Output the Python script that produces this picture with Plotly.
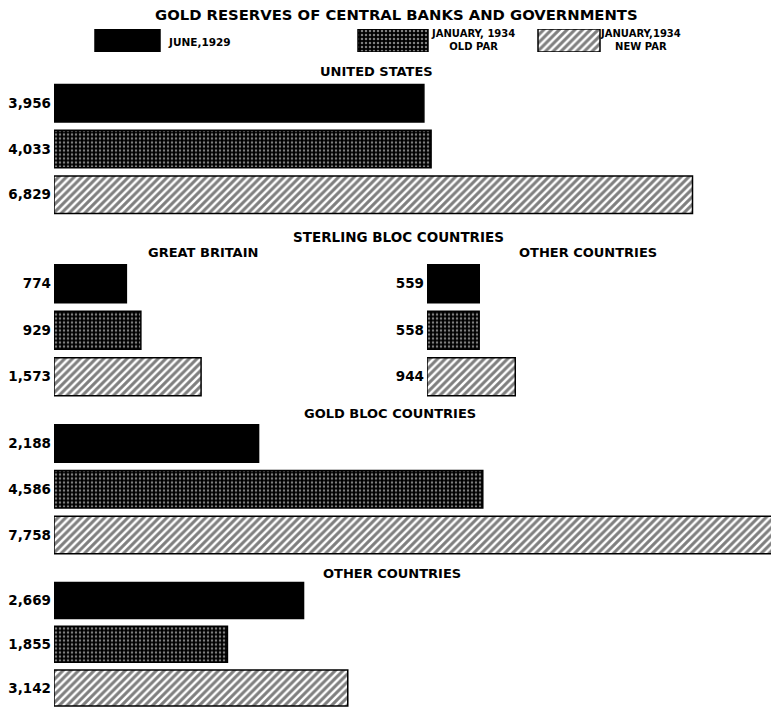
import plotly.graph_objects as go

# ---------------- data ----------------
series_names = ["JUNE,1929", "JANUARY, 1934 OLD PAR", "JANUARY,1934 NEW PAR"]
us_values = [3956, 4033, 6829]
gb_values = [774, 929, 1573]
sterling_other_values = [559, 558, 944]
gold_bloc_values = [2188, 4586, 7758]
other_values = [2669, 1855, 3142]

panel_titles = ["UNITED STATES", "STERLING BLOC COUNTRIES", "GREAT BRITAIN",
                "OTHER COUNTRIES", "GOLD BLOC COUNTRIES", "OTHER COUNTRIES"]
chart_title = "GOLD RESERVES OF CENTRAL BANKS AND GOVERNMENTS"

# ---------------- styling ----------------
W, H = 771, 710
FONT = "DejaVu Sans, Liberation Sans, Arial, sans-serif"
PX_PER_UNIT = 0.0935

def py(p):
    return 1 - p / H

def px(p):
    return p / W

shapes_ = ["", ".", "/"]
fg_ = ["black", "white", "black"]
bg_ = ["black", "black", "white"]
size_ = [8, 4, 5.5]
sol_ = [0.5, 0.3, 0.55]

def fmt(v):
    return f"{v:,}"

fig = go.Figure()

# panels: (values, x-domain start px, x-domain end px, y top px, y bottom px)
panels = [
    (us_values, 54, 771, 80.5, 217.5),
    (gb_values, 54, 400, 260.5, 400),
    (sterling_other_values, 427, 771, 260.5, 400),
    (gold_bloc_values, 54, 771, 420.5, 558),
    (other_values, 54, 771, 578.5, 710),
]

cats = ["s0", "s1", "s2"]
for i, (vals, x0, x1, ytop, ybot) in enumerate(panels):
    n = i + 1
    xa = "x" if n == 1 else f"x{n}"
    ya = "y" if n == 1 else f"y{n}"
    fig.add_trace(go.Bar(
        x=vals, y=cats, orientation="h", xaxis=xa, yaxis=ya,
        width=0.82, showlegend=False, hoverinfo="x",
        marker=dict(color="black", line=dict(color="black", width=1.5),
                    pattern=dict(shape=shapes_, fgcolor=fg_, bgcolor=bg_,
                                 size=size_, solidity=sol_, fillmode="overlay")),
    ))
    xkey = "xaxis" if n == 1 else f"xaxis{n}"
    ykey = "yaxis" if n == 1 else f"yaxis{n}"
    fig.update_layout(**{
        xkey: dict(domain=[px(x0), px(x1)], range=[0, (x1 - x0) / PX_PER_UNIT],
                   anchor=ya, showgrid=False, zeroline=False, showline=False,
                   showticklabels=False, ticks="", fixedrange=True, automargin=False),
        ykey: dict(domain=[py(ybot), py(ytop)], anchor=xa, type="category",
                   categoryorder="array", categoryarray=cats, autorange="reversed",
                   tickvals=cats, ticktext=[fmt(v) for v in vals],
                   showgrid=False, zeroline=False, showline=False, ticks="",
                   ticklabelstandoff=2, automargin=False,
                   tickfont=dict(family=FONT, size=13.5, color="black", weight="bold")),
    })

# legend swatches (decoration) in their own axis, pixel scale
sw_left = [95, 358, 538]
sw_width = [65, 70, 62]
fig.add_trace(go.Bar(
    x=sw_width, base=sw_left, y=[0, 0, 0], orientation="h", xaxis="x6", yaxis="y6",
    width=1, showlegend=False, hoverinfo="skip",
    marker=dict(color="black", line=dict(color="black", width=1.5),
                pattern=dict(shape=shapes_, fgcolor=fg_, bgcolor=bg_,
                             size=size_, solidity=sol_, fillmode="overlay")),
))
fig.update_layout(
    xaxis6=dict(domain=[0, 1], range=[0, W], anchor="y6", visible=False,
                fixedrange=True, automargin=False),
    yaxis6=dict(domain=[py(52), py(29)], range=[-0.5, 0.5], anchor="x6", visible=False,
                fixedrange=True, automargin=False),
)

ann = []
def add_text(text, x, y, size=12.5, xanchor="center"):
    ann.append(dict(text=text, x=px(x), y=py(y), xref="paper", yref="paper",
                    xanchor=xanchor, yanchor="middle", showarrow=False,
                    font=dict(family=FONT, size=size, color="black", weight="bold")))

add_text(chart_title, 397, 15, size=14.8)
add_text(series_names[0], 166, 42, size=10.5, xanchor="left")
add_text("JANUARY, 1934<br>OLD PAR", 473, 40, size=10)
add_text("JANUARY,1934<br>NEW PAR", 640, 40, size=10)
add_text(panel_titles[0], 376, 72, size=13)
add_text(panel_titles[1], 398, 237, size=13.5)
add_text(panel_titles[2], 203, 253, size=13)
add_text(panel_titles[3], 588, 253, size=13)
add_text(panel_titles[4], 390, 413, size=13)
add_text(panel_titles[5], 392, 573, size=13)
fig.update_layout(annotations=ann)

fig.update_layout(
    width=W, height=H, margin=dict(l=0, r=0, t=0, b=0, pad=0, autoexpand=False),
    paper_bgcolor="white", plot_bgcolor="white",
    bargap=0.18, showlegend=False,
)

fig.write_html("out.html", config={"displayModeBar": False},
               post_script="document.body.style.margin='0';document.body.style.padding='0';")
